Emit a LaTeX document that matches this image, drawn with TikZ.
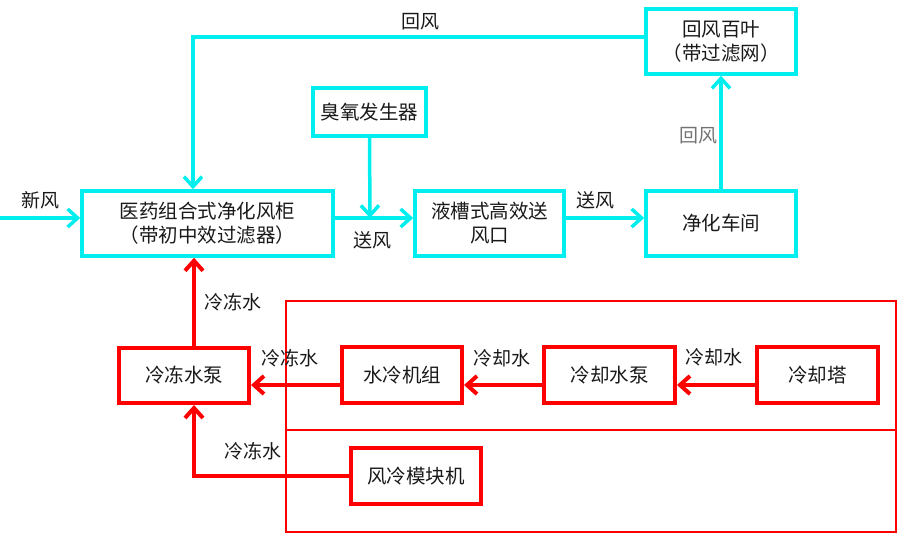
\documentclass[tikz,border=0pt]{standalone}
\usepackage{fontspec}
\setmainfont{Noto Sans CJK SC}
\usepackage{tikz}
\usetikzlibrary{arrows.meta, positioning, calc}
\definecolor{aircyan}{RGB}{0,238,238}
\definecolor{waterred}{RGB}{255,0,0}
\tikzset{>={Straight Barb[length=10pt,width=18pt]}}
\tikzset{
  box/.style={align=center, inner sep=0pt, text=black!90, font=\fontsize{19.5}{24}\selectfont},
  airbox/.style={box, draw=aircyan, line width=3.5pt},
  waterbox/.style={box, draw=waterred, line width=4pt},
  airflow/.style={->, draw=aircyan, line width=3.5pt},
  waterflow/.style={->, draw=waterred, line width=4pt},
  lbl/.style={inner sep=0pt, text=black!90, font=\fontsize{19}{24}\selectfont}
}

\begin{document}
\begin{tikzpicture}[x=1pt, y=-1pt]
\useasboundingbox (0,0) rectangle (903,558);
% frame round the water side
\draw[waterred, line width=1.5pt] (286,301) rectangle (896,532);
\draw[waterred, line width=1.5pt] (286,430) -- (896,430);

% air side
\node[airbox, minimum width=251pt, minimum height=65pt] (cab) at (207.5,223.5) {医药组合式净化风柜\\（带初中效过滤器）};
\node[airbox, minimum width=113pt, minimum height=48pt] (ozone) at (369.5,112) {臭氧发生器};
\node[airbox, minimum width=149pt, minimum height=65pt] (outlet) at (489.5,223.5) {液槽式高效送\\风口};
\node[airbox, minimum width=150pt, minimum height=65pt] (room) at (721,223.5) {净化车间};
\node[airbox, minimum width=150pt, minimum height=65pt] (louver) at (721,41.5) {回风百叶\\（带过滤网）};
\coordinate (fresh) at (0,218);
\coordinate (mix) at (370,218);

% water side
\node[waterbox, minimum width=130pt, minimum height=55pt] (chwpump) at (184,375.5) {冷冻水泵};
\node[waterbox, minimum width=120pt, minimum height=56pt] (chiller) at (402,375) {水冷机组};
\node[waterbox, minimum width=131pt, minimum height=56pt] (cwpump) at (609.5,375) {冷却水泵};
\node[waterbox, minimum width=121pt, minimum height=56pt] (tower) at (817.5,375) {冷却塔};
\node[waterbox, minimum width=130pt, minimum height=56pt] (aircool) at (416,476) {风冷模块机};

% air flows
\draw[airflow] (fresh) -- ([yshift=5.5pt]cab.west);
\draw[airflow] ([yshift=5.5pt]cab.east) -- ([yshift=5.5pt]outlet.west);
\draw[airflow] (ozone.south) -- (mix);
\draw[airflow] ([yshift=5.5pt]outlet.east) -- ([yshift=5.5pt]room.west);
\draw[airflow] (room.north) -- (louver.south);
\draw[airflow] ([yshift=4.5pt]louver.west) -| ([xshift=-14.5pt]cab.north);

% water flows
\draw[waterflow] ([xshift=10pt]chwpump.north) -- ([xshift=-13.5pt]cab.south);
\draw[waterflow] ([yshift=-10pt]chiller.west) -- ([yshift=-9.5pt]chwpump.east);
\draw[waterflow] ([yshift=-10pt]cwpump.west) -- ([yshift=-10pt]chiller.east);
\draw[waterflow] ([yshift=-10pt]tower.west) -- ([yshift=-10pt]cwpump.east);
\draw[waterflow] (aircool.west) -| ([xshift=10pt]chwpump.south);

% labels
\node[lbl] (fresh-l) at (40,200) {新风};
\node[lbl] (ret-l) at (420,22) {回风};
\node[lbl] (mix-l) at (372,240) {送风};
\node[lbl] (supply-l) at (595,200) {送风};
\node[lbl, text=black!55] (room-l) at (698,136) {回风};
\node[lbl] (up-l) at (233,302) {冷冻水};
\node[lbl] (chw-l) at (290,358) {冷冻水};
\node[lbl] (cw1-l) at (502,358) {冷却水};
\node[lbl] (cw2-l) at (714,357) {冷却水};
\node[lbl] (ac-l) at (253,451) {冷冻水};
\end{tikzpicture}
\end{document}
